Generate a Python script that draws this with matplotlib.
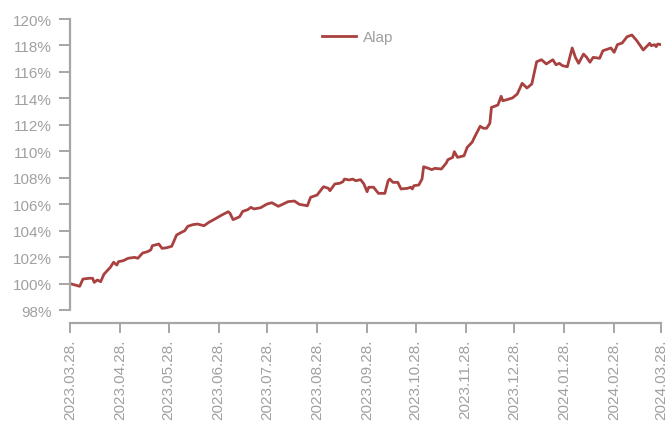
import matplotlib.pyplot as plt
import matplotlib.dates as mdates
import pandas as pd

# Alap index values (%)
dates = [
    "2023-03-28", "2023-04-03", "2023-04-05", "2023-04-09", "2023-04-11", "2023-04-12",
    "2023-04-14", "2023-04-16", "2023-04-18", "2023-04-22", "2023-04-24", "2023-04-26",
    "2023-04-27", "2023-04-30", "2023-05-03", "2023-05-07", "2023-05-09", "2023-05-12",
    "2023-05-15", "2023-05-17", "2023-05-18", "2023-05-22", "2023-05-24", "2023-05-27",
    "2023-05-30", "2023-06-02", "2023-06-05", "2023-06-07", "2023-06-09", "2023-06-12",
    "2023-06-15", "2023-06-19", "2023-06-22", "2023-06-25", "2023-06-30", "2023-07-04",
    "2023-07-05", "2023-07-07", "2023-07-11", "2023-07-13", "2023-07-16", "2023-07-18",
    "2023-07-20", "2023-07-24", "2023-07-28", "2023-07-31", "2023-08-04", "2023-08-07",
    "2023-08-10", "2023-08-14", "2023-08-17", "2023-08-22", "2023-08-24", "2023-08-28",
    "2023-09-01", "2023-09-04", "2023-09-05", "2023-09-08", "2023-09-11", "2023-09-13",
    "2023-09-14", "2023-09-17", "2023-09-19", "2023-09-21", "2023-09-23", "2023-09-24",
    "2023-09-26", "2023-09-28", "2023-09-29", "2023-10-02", "2023-10-05", "2023-10-09",
    "2023-10-11", "2023-10-12", "2023-10-14", "2023-10-17", "2023-10-19", "2023-10-23",
    "2023-10-25", "2023-10-26", "2023-10-27", "2023-10-30", "2023-11-01", "2023-11-02",
    "2023-11-05", "2023-11-07", "2023-11-09", "2023-11-13", "2023-11-16", "2023-11-17",
    "2023-11-20", "2023-11-21", "2023-11-23", "2023-11-27", "2023-11-29", "2023-12-02",
    "2023-12-04", "2023-12-07", "2023-12-09", "2023-12-11", "2023-12-13", "2023-12-14",
    "2023-12-16", "2023-12-18", "2023-12-20", "2023-12-21", "2023-12-23", "2023-12-27",
    "2023-12-30", "2024-01-02", "2024-01-05", "2024-01-08", "2024-01-11", "2024-01-14",
    "2024-01-17", "2024-01-21", "2024-01-23", "2024-01-25", "2024-01-27", "2024-01-30",
    "2024-02-02", "2024-02-04", "2024-02-06", "2024-02-09", "2024-02-11", "2024-02-13",
    "2024-02-15", "2024-02-19", "2024-02-21", "2024-02-24", "2024-02-26", "2024-02-28",
    "2024-03-01", "2024-03-04", "2024-03-07", "2024-03-10", "2024-03-13", "2024-03-17",
    "2024-03-21", "2024-03-22", "2024-03-24", "2024-03-25", "2024-03-26", "2024-03-28",
]
alap = [
    100.00, 99.79, 100.34, 100.40, 100.40, 100.09,
    100.27, 100.14, 100.70, 101.23, 101.61, 101.40,
    101.65, 101.73, 101.91, 101.98, 101.91, 102.31,
    102.41, 102.54, 102.86, 102.99, 102.66, 102.71,
    102.82, 103.67, 103.87, 103.99, 104.33, 104.45,
    104.50, 104.37, 104.63, 104.83, 105.18, 105.43,
    105.33, 104.83, 105.05, 105.46, 105.58, 105.76,
    105.64, 105.73, 106.01, 106.11, 105.84, 106.01,
    106.19, 106.24, 105.99, 105.88, 106.52, 106.69,
    107.32, 107.20, 107.02, 107.53, 107.58, 107.70,
    107.90, 107.83, 107.90, 107.77, 107.83, 107.85,
    107.53, 106.94, 107.28, 107.28, 106.82, 106.82,
    107.77, 107.90, 107.65, 107.65, 107.15, 107.20,
    107.28, 107.15, 107.40, 107.45, 107.90, 108.83,
    108.71, 108.61, 108.71, 108.66, 109.11, 109.36,
    109.54, 109.97, 109.54, 109.66, 110.30, 110.68,
    111.18, 111.89, 111.74, 111.74, 112.11, 113.32,
    113.40, 113.50, 114.16, 113.82, 113.88, 114.03,
    114.33, 115.14, 114.78, 115.09, 116.77, 116.92,
    116.60, 116.92, 116.54, 116.65, 116.47, 116.39,
    117.81, 117.10, 116.65, 117.35, 117.10, 116.73,
    117.10, 117.03, 117.60, 117.73, 117.81, 117.48,
    118.06, 118.19, 118.66, 118.79, 118.36, 117.66,
    118.16, 117.98, 118.06, 117.91, 118.11, 118.06,
]
tick_dates = pd.date_range("2023-03-28", "2024-03-28", freq="MS") + pd.Timedelta(days=27)
tick_dates = [pd.Timestamp("2023-03-28")] + [d for d in tick_dates if d > pd.Timestamp("2023-03-28")]

x = pd.to_datetime(dates)
gray = "#a6a6a6"
txt = "#a0a0a0"

plt.rcParams["font.family"] = ["Liberation Sans", "DejaVu Sans"]

fig = plt.figure(figsize=(6.67, 4.31), dpi=100)
ax = fig.add_axes([70 / 667, 1 - 311 / 431, 591 / 667, 291 / 431])

ax.plot(x, alap, color="#a8413f", lw=2.0, label="Alap")

ax.set_ylim(98, 120)
ax.set_yticks(range(98, 121, 2))
ax.set_yticklabels([f"{v}%" for v in range(98, 121, 2)])
ax.set_xlim(pd.Timestamp("2023-03-28"), pd.Timestamp("2024-03-28"))
ax.set_xticks(tick_dates)
ax.xaxis.set_major_formatter(mdates.DateFormatter("%Y.%m.%d."))

for s in ["top", "right"]:
    ax.spines[s].set_visible(False)
for s in ["left", "bottom"]:
    ax.spines[s].set_color(gray)
    ax.spines[s].set_linewidth(1.6)
ax.spines["bottom"].set_position(("outward", 9.5))

ax.tick_params(axis="y", colors=gray, labelcolor=txt, length=8, width=1.4,
               labelsize=11, pad=5)
ax.tick_params(axis="x", colors=gray, labelcolor=txt, length=7, width=1.4,
               labelsize=11, pad=4, labelrotation=90)

ax.legend(loc="center", bbox_to_anchor=(0.4865, 0.938), frameon=False,
          fontsize=11, handlelength=2.2, handletextpad=0.45, labelcolor=txt)

fig.savefig("out.png", dpi=100)
